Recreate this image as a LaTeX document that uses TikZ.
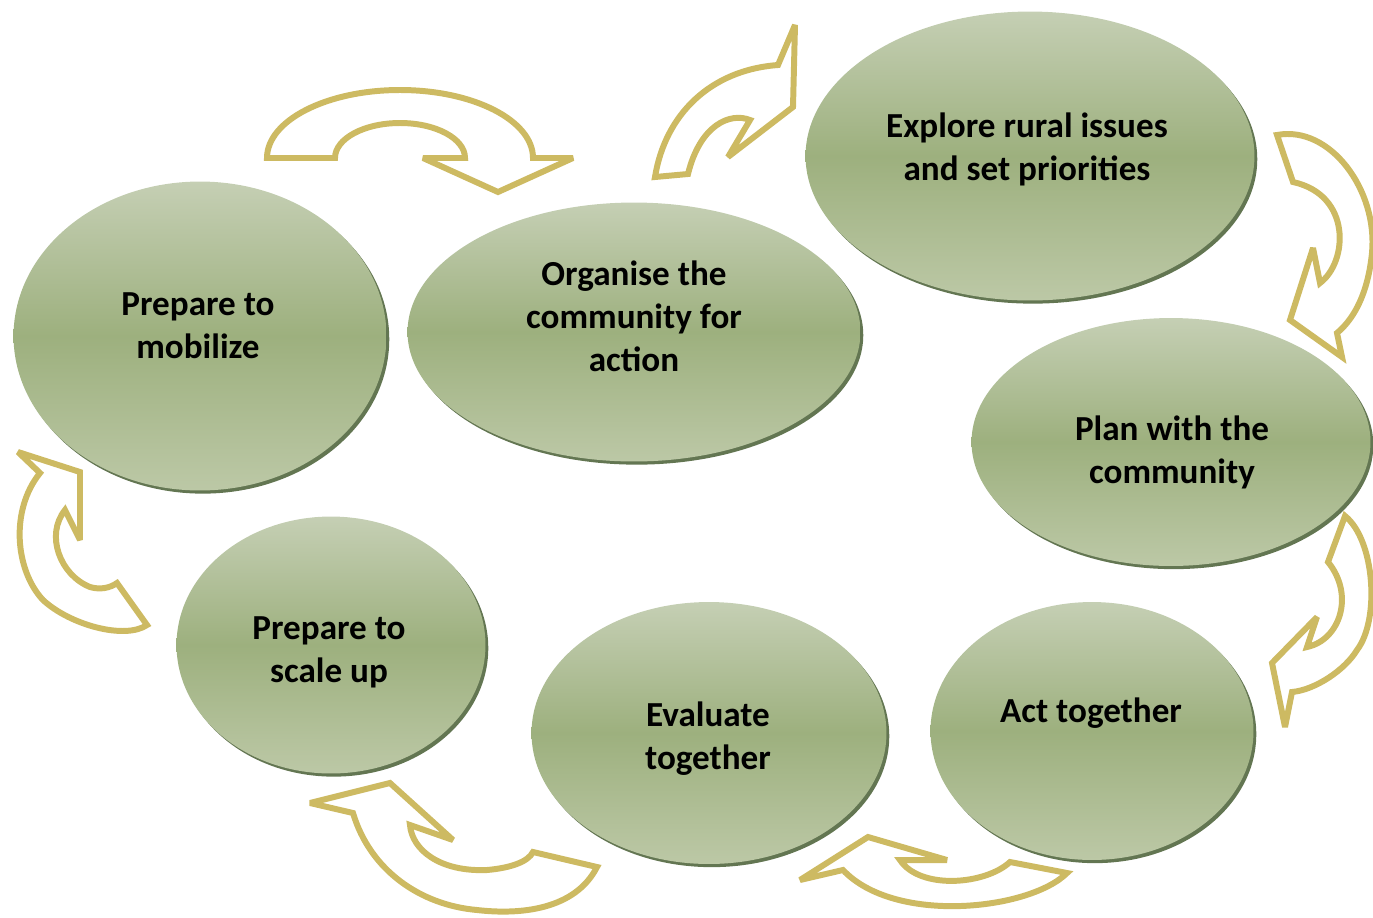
\documentclass[tikz,border=0pt]{standalone}
\usepackage{fontspec}
\setmainfont{Carlito}
\usetikzlibrary{shapes.geometric,shadows}
\definecolor{stagetop}{RGB}{197,207,180}
\definecolor{stagemid}{RGB}{157,176,126}
\definecolor{stagebot}{RGB}{188,200,166}
\definecolor{stagerim}{RGB}{72,94,52}
\definecolor{loopgold}{RGB}{205,186,98}
\tikzset{
  stage/.style={ellipse, inner sep=0pt, top color=stagetop, bottom color=stagebot, middle color=stagemid,
    drop shadow={shadow xshift=1.6pt, shadow yshift=-1.8pt, fill=stagerim, opacity=.85}},
  stagetext/.style={font=\bfseries\fontsize{20}{24.4}\selectfont, align=center},
  looparrow/.style={draw=loopgold, line width=3.4pt, fill=white, line join=miter, miter limit=3}
}
\begin{document}
\begin{tikzpicture}[x=0.02cm,y=-0.02cm]
\useasboundingbox (0,0) rectangle (1373,917);
% curved arrows between the stages
\draw[looparrow] (267,158) arc[start angle=180, end angle=360, x radius=133, y radius=68]
    -- (573,158) -- (498,192) -- (423,158) -- (465,158)
    arc[start angle=0, end angle=-180, x radius=65, y radius=35] -- cycle;
\draw[looparrow] (655,177) .. controls (665,115) and (710,70) .. (778,65) -- (795,25) -- (793,107)
    -- (728,157) -- (750,120) .. controls (730,112) and (700,125) .. (688,174) -- cycle;
\draw[looparrow] (1277,135) .. controls (1330,125) and (1378,190) .. (1372,253)
    .. controls (1368,292) and (1355,318) .. (1337,333) -- (1342,357) -- (1290,320) -- (1313,248)
    -- (1320,283) .. controls (1348,262) and (1352,195) .. (1293,182) -- cycle;
\draw[looparrow] (1345,516) .. controls (1375,540) and (1380,620) .. (1357,650)
    .. controls (1345,670) and (1315,690) .. (1292,692) -- (1285,727) -- (1272,663) -- (1317,617)
    -- (1307,647) .. controls (1340,640) and (1355,595) .. (1328,562) -- cycle;
\draw[looparrow] (1067,873) .. controls (1030,910) and (895,925) .. (843,870) -- (800,880)
    -- (868,837) -- (947,860) -- (900,860) .. controls (920,890) and (985,885) .. (1010,862) -- cycle;
\draw[looparrow] (597,867) .. controls (575,910) and (520,915) .. (477,910)
    .. controls (420,905) and (370,870) .. (353,813) -- (310,803) -- (390,783) -- (453,840)
    -- (410,825) .. controls (412,850) and (440,872) .. (487,870)
    .. controls (510,868) and (528,862) .. (533,852) -- cycle;
\draw[looparrow] (147,625) .. controls (125,640) and (70,625) .. (43,600)
    .. controls (15,570) and (10,510) .. (40,473) -- (18,452) -- (80,472) -- (80,540)
    -- (65,510) .. controls (45,535) and (60,575) .. (90,587)
    .. controls (100,590) and (110,588) .. (117,583) -- cycle;
% stages
\node[stage, minimum width=7.46cm, minimum height=6.18cm] (mobilize) at (200,336) {};
\node[stage, minimum width=9.06cm, minimum height=5.18cm] (organise) at (634,332) {};
\node[stage, minimum width=8.98cm, minimum height=5.78cm] (explore) at (1030,156) {};
\node[stage, minimum width=7.98cm, minimum height=4.96cm] (plan) at (1171,442) {};
\node[stage, minimum width=6.46cm, minimum height=5.16cm] (act) at (1092,731) {};
\node[stage, minimum width=7.10cm, minimum height=5.24cm] (evaluate) at (709,733) {};
\node[stage, minimum width=6.18cm, minimum height=5.14cm] (scaleup) at (331,645) {};
\node[stagetext] (mobilizetxt) at (198,326) {Prepare to\\mobilize};
\node[stagetext] (organisetxt) at (634,316) {Organise the\\community for\\action};
\node[stagetext] (exploretxt) at (1027,149) {Explore rural issues\\and set priorities};
\node[stagetext] (plantxt) at (1172,452) {Plan with the\\community};
\node[stagetext] (acttxt) at (1091,713) {Act together};
\node[stagetext] (evaluatetxt) at (708,739) {Evaluate\\together};
\node[stagetext] (scaleuptxt) at (329,652) {Prepare to\\scale up};
\end{tikzpicture}
\end{document}
